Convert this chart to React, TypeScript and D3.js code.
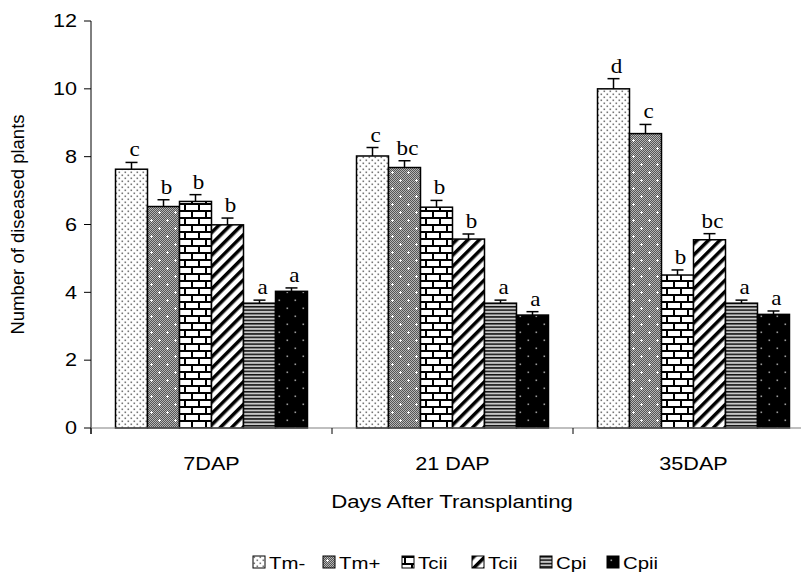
import * as d3 from "d3";

const groups = ["7DAP", "21 DAP", "35DAP"];
const series = ["Tm-", "Tm+", "Tcii", "Tcii ", "Cpi", "Cpii"];
const legendLabels = ["Tm-", "Tm+", "Tcii", "Tcii", "Cpi", "Cpii"];

const means = [
  [7.63, 6.53, 6.68, 5.99, 3.68, 4.03],
  [8.02, 7.68, 6.51, 5.57, 3.68, 3.33],
  [10.0, 8.68, 4.51, 5.55, 3.68, 3.35],
];
const errors = [
  [0.2, 0.2, 0.2, 0.2, 0.09, 0.1],
  [0.25, 0.2, 0.2, 0.15, 0.09, 0.1],
  [0.3, 0.27, 0.15, 0.18, 0.09, 0.1],
];
const letters = [
  ["c", "b", "b", "b", "a", "a"],
  ["c", "bc", "b", "b", "a", "a"],
  ["d", "c", "b", "bc", "a", "a"],
];
const yTicks = [0, 2, 4, 6, 8, 10, 12];

const patternIds = ["pTmMinus", "pTmPlus", "pBrick", "pDiag", "pHoriz", "pBlackDots"];

const W = 801;
const H = 573;
const sans = "'Liberation Sans', Arial, sans-serif";
const serif = "'Liberation Serif', 'Times New Roman', serif";
const stretch = 1.2; // the original figure is a bit wider than tall

export default function App() {
  const x0 = d3.scaleBand().domain(groups).range([91, 814]).paddingInner(0).paddingOuter(0);
  const x1 = d3.scaleBand().domain(series).range([0, x0.bandwidth()]).paddingInner(0).paddingOuter(0.766);
  const y = d3.scaleLinear().domain([0, 12]).range([428, 21]);

  const boundaries = [...groups.map((g) => x0(g)!), x0.range()[1]];

  // legend layout
  const legendItemW = [70, 79, 70, 68, 67, 60];
  const legendTotal = d3.sum(legendItemW);
  const legendStart = 452 - legendTotal / 2 + 8;
  const legendX = legendItemW.map((_, i) => legendStart + d3.sum(legendItemW.slice(0, i)));

  return (
    <svg width={W} height={H} style={{ position: "absolute", left: 0, top: 0, background: "#fff" }}>
      <defs>
        <pattern id="pTmMinus" width="6" height="6" patternUnits="userSpaceOnUse">
          <rect width="6" height="6" fill="#fff" />
          <rect x="0.5" y="0.5" width="1.6" height="1.6" fill="#777" />
          <rect x="3.5" y="3.5" width="1.6" height="1.6" fill="#777" />
        </pattern>
        <pattern id="pChecker" width="2" height="2" patternUnits="userSpaceOnUse">
          <rect width="2" height="2" fill="#b5b5b5" />
          <rect width="1" height="1" fill="#555" />
          <rect x="1" y="1" width="1" height="1" fill="#555" />
        </pattern>
        <pattern id="pTmPlus" width="16" height="16" patternUnits="userSpaceOnUse">
          <rect width="16" height="16" fill="url(#pChecker)" />
          <rect x="3" y="4" width="3" height="1" fill="#fff" />
          <rect x="4" y="3" width="1" height="3" fill="#fff" />
          <rect x="11" y="12" width="3" height="1" fill="#fff" />
          <rect x="12" y="11" width="1" height="3" fill="#fff" />
        </pattern>
        <pattern id="pBrick" width="14" height="14" patternUnits="userSpaceOnUse">
          <rect width="14" height="14" fill="#fff" />
          <rect x="0" y="0" width="14" height="2" fill="#000" />
          <rect x="0" y="7" width="14" height="2" fill="#000" />
          <rect x="2" y="0" width="2" height="7" fill="#000" />
          <rect x="9" y="7" width="2" height="7" fill="#000" />
        </pattern>
        <pattern id="pDiag" width="8" height="8" patternUnits="userSpaceOnUse" patternTransform="rotate(45)">
          <rect width="8" height="8" fill="#fff" />
          <rect x="0" y="0" width="3.5" height="8" fill="#000" />
        </pattern>
        <pattern id="pHoriz" width="4" height="3.4" patternUnits="userSpaceOnUse">
          <rect width="4" height="3.4" fill="#c8c8c8" />
          <rect y="0" width="4" height="1.5" fill="#111" />
        </pattern>
        <pattern id="pBlackDots" width="16" height="16" patternUnits="userSpaceOnUse">
          <rect width="16" height="16" fill="#000" />
          <rect x="3.5" y="3.5" width="1.6" height="1.6" fill="#999" />
          <rect x="11.5" y="11.5" width="1.6" height="1.6" fill="#999" />
        </pattern>
      </defs>

      {/* y axis */}
      <line x1={91} x2={91} y1={y(12)} y2={434} stroke="#000" strokeWidth={1} />
      {yTicks.map((t) => (
        <g key={t}>
          <line x1={84} x2={91} y1={y(t)} y2={y(t)} stroke="#000" />
          <text
            transform={`translate(77,${y(t)}) scale(${stretch},1)`}
            dy="0.35em"
            textAnchor="end"
            fontFamily={sans}
            fontSize={18}
          >
            {t}
          </text>
        </g>
      ))}
      <text
        transform={`translate(24,${(y(0) + y(12)) / 2}) rotate(-90)`}
        textAnchor="middle"
        fontFamily={sans}
        fontSize={18.5}
      >
        Number of diseased plants
      </text>

      {/* bars */}
      {groups.map((g, gi) => (
        <g key={g} transform={`translate(${x0(g)},0)`}>
          {series.map((s, si) => {
            const v = means[gi][si];
            const e = errors[gi][si];
            const bx = x1(s)!;
            const bw = x1.bandwidth();
            const cx = bx + bw / 2;
            return (
              <g key={s}>
                <rect
                  x={bx}
                  y={y(v)}
                  width={bw}
                  height={y(0) - y(v)}
                  fill={`url(#${patternIds[si]})`}
                  stroke="#000"
                  strokeWidth={1.5}
                />
                <line x1={cx} x2={cx} y1={y(v)} y2={y(v + e)} stroke="#000" strokeWidth={1.5} />
                <line x1={cx - 6} x2={cx + 6} y1={y(v + e)} y2={y(v + e)} stroke="#000" strokeWidth={1.5} />
                <text
                  transform={`translate(${cx + 3},${y(v + e) - 6}) scale(1.1,1)`}
                  textAnchor="middle"
                  fontFamily={serif}
                  fontSize={21}
                >
                  {letters[gi][si]}
                </text>
              </g>
            );
          })}
        </g>
      ))}

      {/* x axis */}
      <line x1={91} x2={814} y1={428} y2={428} stroke="#808080" strokeWidth={1.2} />
      {boundaries.map((b, i) => (
        <line key={i} x1={b} x2={b} y1={428} y2={434} stroke="#000" />
      ))}
      {groups.map((g) => (
        <text
          key={g}
          transform={`translate(${x0(g)! + x0.bandwidth() / 2},470) scale(${stretch},1)`}
          textAnchor="middle"
          fontFamily={sans}
          fontSize={18}
        >
          {g}
        </text>
      ))}
      <text
        transform={`translate(452,508) scale(${stretch},1)`}
        textAnchor="middle"
        fontFamily={sans}
        fontSize={18.5}
      >
        Days After Transplanting
      </text>

      {/* legend */}
      {legendLabels.map((l, i) => (
        <g key={i} transform={`translate(${legendX[i]},556)`}>
          <rect x={0} y={0} width={12} height={12} fill={`url(#${patternIds[i]})`} stroke="#000" strokeWidth={1} />
          <text transform={`translate(16,12.5) scale(${stretch},1)`} fontFamily={sans} fontSize={17}>
            {l}
          </text>
        </g>
      ))}
    </svg>
  );
}
